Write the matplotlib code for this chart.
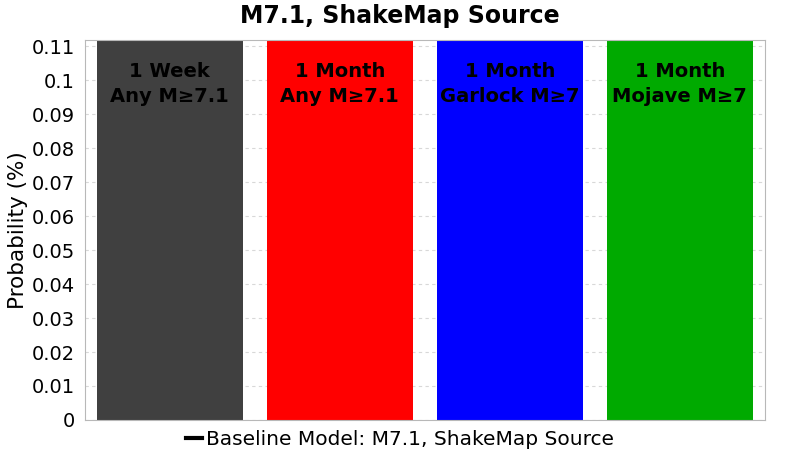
import matplotlib
matplotlib.use("Agg")
import matplotlib.pyplot as plt
from matplotlib.lines import Line2D

# bars run past the top of the axis in the source, so values are only lower bounds
labels = ["1 Week\nAny M≥7.1", "1 Month\nAny M≥7.1",
          "1 Month\nGarlock M≥7", "1 Month\nMojave M≥7"]
probs = [0.2, 0.2, 0.2, 0.2]
colors = ["#404040", "#FF0000", "#0000FF", "#00AA00"]
yticks = [0, 0.01, 0.02, 0.03, 0.04, 0.05, 0.06, 0.07, 0.08, 0.09, 0.1, 0.11]
ytick_labels = ["0", "0.01", "0.02", "0.03", "0.04", "0.05", "0.06",
                "0.07", "0.08", "0.09", "0.1", "0.11"]

fig = plt.figure(figsize=(8, 4.5), dpi=100, facecolor="white")
ax = fig.add_axes([0.106, 0.0667, 0.85, 0.8445])

x = list(range(len(labels)))
ax.bar(x, probs, width=0.859, color=colors, zorder=2)
for xi, lab in zip(x, labels):
    ax.text(xi, 0.0988, lab, ha="center", va="center", fontsize=14,
            fontweight="bold", color="black", linespacing=1.42, zorder=3)

ax.set_xlim(-0.5, 3.5)
ax.set_ylim(0, 0.1118)
ax.set_yticks(yticks)
ax.set_yticklabels(ytick_labels, fontsize=14)
ax.set_xticks([])
ax.tick_params(axis="y", length=0, pad=7)
ax.yaxis.grid(True, color="#d8d8d8", linestyle=(0, (3, 3)), linewidth=0.8, zorder=0)
for s in ax.spines.values():
    s.set_color("#b8b8b8")
ax.set_ylabel("Probability (%)", fontsize=15.5, labelpad=3)
# title and legend are centred on the whole figure, not the axes
fig.suptitle("M7.1, ShakeMap Source", x=0.5, y=0.99, fontsize=17,
             fontweight="bold", va="top")

handle = Line2D([], [], color="black", linewidth=3)
fig.legend([handle], ["Baseline Model: M7.1, ShakeMap Source"], loc="upper center",
           bbox_to_anchor=(0.5, 0.0667), frameon=False, fontsize=14.5,
           handlelength=0.8, handletextpad=0.2, borderpad=0)

fig.savefig("out.png", dpi=100, facecolor="white")
